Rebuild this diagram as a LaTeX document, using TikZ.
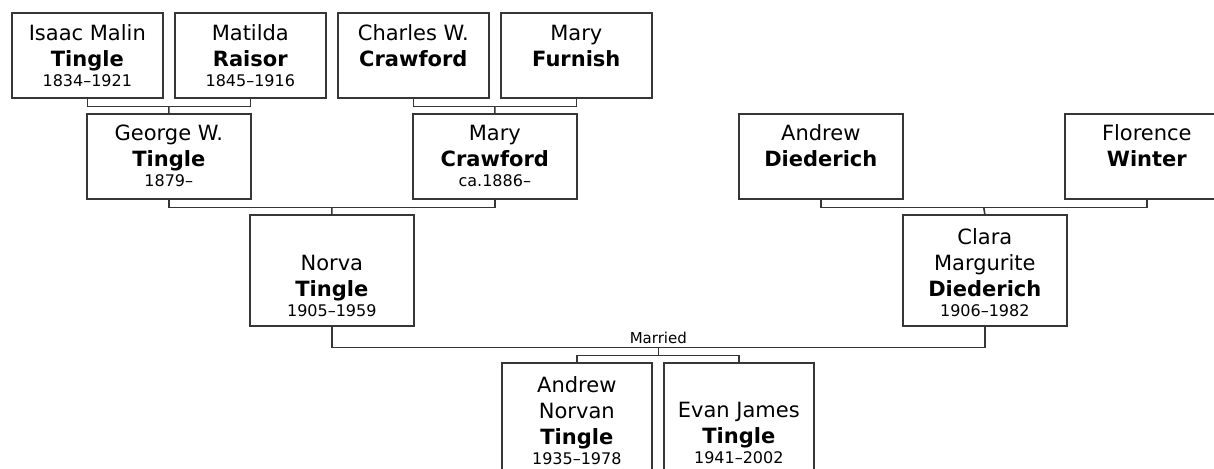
\documentclass[tikz,border=0pt]{standalone}
\usepackage{fontspec}
\setmainfont{DejaVu Sans}
\usetikzlibrary{calc}
\definecolor{ln}{HTML}{363636}
\newcommand\namefont{\fontsize{21}{26}\selectfont}
\newcommand\datefont{\fontsize{16}{20}\selectfont}
\newcommand\famcard[6]{\begin{minipage}[t][#2][t]{#1}\setlength\parskip{0pt}\centering\namefont\rule{0pt}{#3}#4\par\textbf{#5}\par{\datefont #6\par}\end{minipage}}
\tikzset{
  card/.style={draw=ln, line width=1.6pt, fill=white, inner sep=0pt, anchor=north west},
  link/.style={draw=ln, line width=1.6pt},
}
\begin{document}
\begin{tikzpicture}[x=1pt,y=-1pt]
\useasboundingbox (0,0) rectangle (1214,468);
\clip (0,0) rectangle (1214,468);
\fill[white] (0,0) rectangle (1214,468);
% row 1
\node[card] (isaac) at (11,12) {\famcard{151pt}{85pt}{28pt}{Isaac Malin}{Tingle}{1834–1921}};
\node[card] (matilda) at (174,12) {\famcard{151pt}{85pt}{28pt}{Matilda}{Raisor}{1845–1916}};
\node[card] (charles) at (337,12) {\famcard{151pt}{85pt}{28pt}{Charles W.}{Crawford}{}};
\node[card] (furnish) at (500,12) {\famcard{151pt}{85pt}{28pt}{Mary}{Furnish}{}};
% row 2
\node[card] (george) at (86,113) {\famcard{164pt}{85pt}{27pt}{George W.}{Tingle}{1879–}};
\node[card] (maryc) at (412,113) {\famcard{164pt}{85pt}{27pt}{Mary}{Crawford}{ca.1886–}};
\node[card] (andrewd) at (738,113) {\famcard{164pt}{85pt}{27pt}{Andrew}{Diederich}{}};
\node[card] (florence) at (1064,113) {\famcard{164pt}{85pt}{27pt}{Florence}{Winter}{}};
% row 3
\node[card] (norva) at (249,214) {\famcard{164pt}{111pt}{56pt}{Norva}{Tingle}{1905–1959}};
\node[card] (clara) at (902,214) {\famcard{164pt}{111pt}{30pt}{Clara\par Margurite}{Diederich}{1906–1982}};
% children
\node[card] (andrewn) at (501,362) {\famcard{150pt}{120pt}{30pt}{Andrew\par Norvan}{Tingle}{1935–1978}};
\node[card] (evan) at (663,362) {\famcard{150pt}{120pt}{55pt}{Evan James}{Tingle}{1941–2002}};
% couples
\coordinate (c1) at ($(isaac.south)!0.5!(matilda.south)+(0,8)$);
\draw[link] (isaac.south) |- (c1) -| (matilda.south);
\draw[link] (c1) -- (george.north);
\coordinate (c2) at ($(charles.south)!0.5!(furnish.south)+(0,8)$);
\draw[link] (charles.south) |- (c2) -| (furnish.south);
\draw[link] (c2) -- (maryc.north);
\coordinate (c3) at ($(george.south)!0.5!(maryc.south)+(0,8)$);
\draw[link] (george.south) |- (c3) -| (maryc.south);
\draw[link] (c3) -- (norva.north);
\coordinate (c4) at ($(andrewd.south)!0.5!(florence.south)+(0,8)$);
\draw[link] (andrewd.south) |- (c4) -| (florence.south);
\draw[link] (c4) -- (clara.north);
\coordinate (c5) at ($(norva.south)!0.5!(clara.south)+(0,21)$);
\draw[link] (norva.south) |- (c5) -| (clara.south);
\node[anchor=base, yshift=4.5pt, inner sep=0pt, font=\fontsize{15}{18}\selectfont] (married) at (c5) {Married};
\coordinate (k) at ($(c5)+(0,8)$);
\draw[link] (c5) -- (k);
\draw[link] (andrewn.north) |- (k) -| (evan.north);
\end{tikzpicture}
\end{document}
